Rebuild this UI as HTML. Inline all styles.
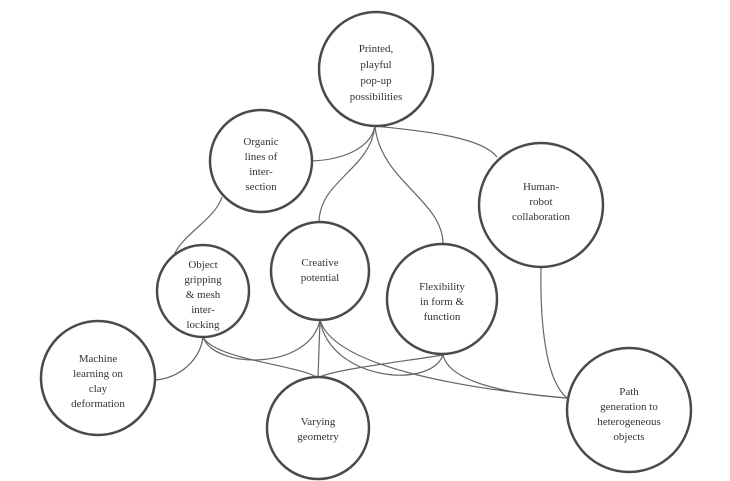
<!DOCTYPE html>
<html><head><style>body{margin:0;background:#fff}svg{display:block}text{font-family:"Liberation Serif",serif;font-size:11px;fill:#333;text-anchor:middle}</style></head>
<body>
<svg width="730" height="481" viewBox="0 0 730 481">
<g fill="none" stroke="#666" stroke-width="1.2">
<path d="M375 126 C370 150 340 160 311 161"/>
<path d="M375 126 C370 170 320 180 319 222"/>
<path d="M375 126 C380 180 442 200 443 243"/>
<path d="M375 126 C410 130 480 135 497 157"/>
<path d="M222 197 C215 220 180 235 173 258"/>
<path d="M203 337 C200 360 180 378 155 380"/>
<path d="M203 337 C215 360 300 365 318 378"/>
<path d="M203 337 C215 370 310 370 320 320"/>
<path d="M320 320 L318 378"/>
<path d="M320 320 C330 380 430 390 443 355"/>
<path d="M320 320 C335 370 480 390 567 398"/>
<path d="M443 355 C400 362 330 370 318 378"/>
<path d="M443 355 C450 385 520 395 567 398"/>
<path d="M541 267 C540 320 545 380 567 398"/>
</g>
<g fill="#fff" stroke="#4a4a4a" stroke-width="2.5">
<circle cx="376" cy="69" r="57"/>
<circle cx="261" cy="161" r="51"/>
<circle cx="541" cy="205" r="62"/>
<circle cx="203" cy="291" r="46"/>
<circle cx="320" cy="271" r="49"/>
<circle cx="442" cy="299" r="55"/>
<circle cx="98" cy="378" r="57"/>
<circle cx="318" cy="428" r="51"/>
<circle cx="629" cy="410" r="62"/>
</g>
<text x="376" y="52">Printed,</text><text x="376" y="68">playful</text><text x="376" y="84">pop-up</text><text x="376" y="100">possibilities</text>
<text x="261" y="145">Organic</text><text x="261" y="160">lines of</text><text x="261" y="175">inter-</text><text x="261" y="190">section</text>
<text x="541" y="190">Human-</text><text x="541" y="205">robot</text><text x="541" y="220">collaboration</text>
<text x="203" y="268">Object</text><text x="203" y="283">gripping</text><text x="203" y="298">&amp; mesh</text><text x="203" y="313">inter-</text><text x="203" y="328">locking</text>
<text x="320" y="266">Creative</text><text x="320" y="281">potential</text>
<text x="442" y="290">Flexibility</text><text x="442" y="305">in form &amp;</text><text x="442" y="320">function</text>
<text x="98" y="362">Machine</text><text x="98" y="377">learning on</text><text x="98" y="392">clay</text><text x="98" y="407">deformation</text>
<text x="318" y="425">Varying</text><text x="318" y="440">geometry</text>
<text x="629" y="395">Path</text><text x="629" y="410">generation to</text><text x="629" y="425">heterogeneous</text><text x="629" y="440">objects</text>
</svg>
</body></html>
